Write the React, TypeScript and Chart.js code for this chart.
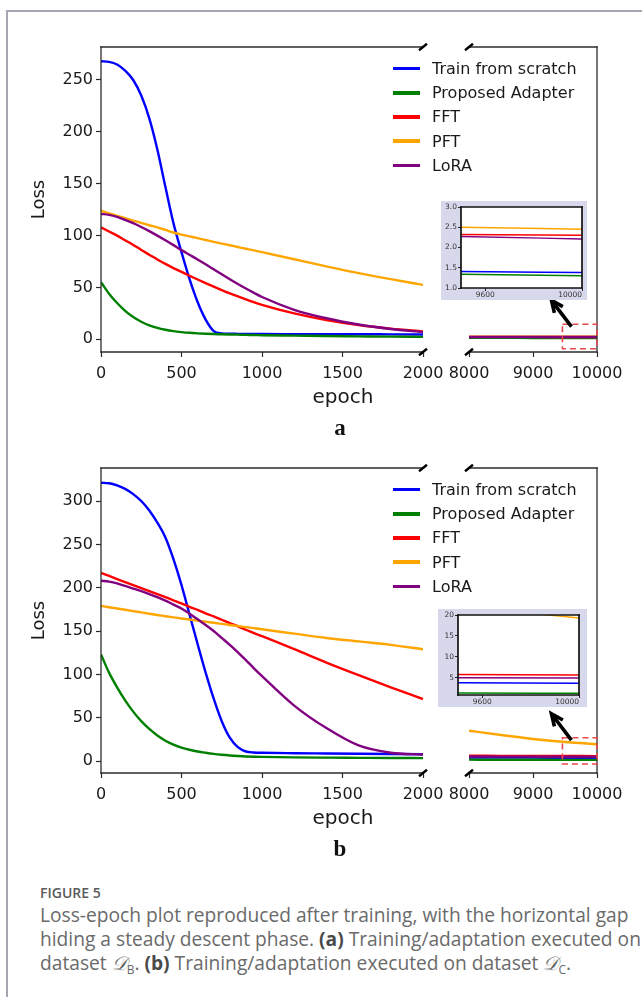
import React, { useEffect, useRef } from 'react';
import { Chart, registerables } from 'chart.js';

Chart.register(...registerables);

// ---------------- data ----------------
const SERIES_NAMES = ['Train from scratch', 'Proposed Adapter', 'FFT', 'PFT', 'LoRA'];
const SERIES_COLORS = ['#0000ff', '#008000', '#ff0000', '#ffa500', '#800080'];

const EPOCHS = [0, 50, 100, 150, 200, 250, 300, 350, 400, 450, 500, 550, 600, 650, 700, 750, 800, 850, 900, 950, 1000, 1200, 1400, 1600, 1800, 2000];
const LATE_EPOCHS = [8000, 8500, 9000, 9500, 10000];

const EARLY_X_TICKS = [0, 500, 1000, 1500, 2000];
const LATE_X_TICKS = [8000, 9000, 10000];
const INSET_X = [9500, 10000];
const INSET_X_LABELS = [9600, 10000];

// panel (a)
const A_SCRATCH = [268, 267.5, 265, 259, 250, 235, 213, 183, 147, 112, 84, 58, 36, 19, 8, 5.7, 5.4, 5.3, 5.2, 5.2, 5.1, 5.0, 4.9, 4.9, 4.8, 4.7];
const A_ADAPTER = [55, 44, 35, 27.5, 21.5, 17, 13.5, 11, 9.2, 7.9, 7, 6.3, 5.8, 5.4, 5.1, 4.9, 4.7, 4.5, 4.3, 4.2, 4.0, 3.6, 3.2, 2.9, 2.6, 2.4];
const A_FFT = [108, 104, 100, 95.5, 91, 86.2, 81.6, 77, 72.7, 68.7, 65, 61.3, 57.7, 54.2, 50.8, 47.5, 44.3, 41.3, 38.5, 35.8, 33.3, 25, 18.6, 13.8, 10.3, 7.7];
const A_PFT = [124, 121.5, 119, 116.8, 114.5, 112.3, 110, 108, 105.5, 103, 101, 99.3, 97.5, 95.8, 94, 92.3, 90.7, 89, 87.3, 85.7, 84, 77.2, 70.4, 63.8, 58, 52.5];
const A_LORA = [121, 120, 118, 115.2, 112, 108.3, 104.3, 100, 95.5, 90.8, 86, 81.5, 77, 72.3, 67.5, 62.7, 58, 53.4, 49, 44.8, 40.8, 28.5, 20.3, 14.3, 10, 7];

const A_SCRATCH_LATE = [1.46, 1.44, 1.42, 1.41, 1.38];
const A_ADAPTER_LATE = [1.4, 1.38, 1.36, 1.34, 1.3];
const A_FFT_LATE = [2.36, 2.35, 2.34, 2.32, 2.3];
const A_PFT_LATE = [2.58, 2.55, 2.52, 2.5, 2.45];
const A_LORA_LATE = [2.33, 2.31, 2.29, 2.27, 2.21];

const A_Y_RANGE = [-12.2, 281.8];
const A_Y_TICKS = [0, 50, 100, 150, 200, 250];
const A_INSET_Y = [1, 3];
const A_INSET_Y_TICKS = [1.0, 1.5, 2.0, 2.5, 3.0];
const A_ZOOM_BOX = [9460, 10000, -9, 14.5];

// panel (b)
const B_SCRATCH = [321, 320.5, 318, 314, 308, 300, 289, 275, 258, 233, 203, 169, 135, 102, 72, 46, 27, 16, 11, 9.8, 9.5, 9.0, 8.7, 8.4, 8.1, 7.8];
const B_ADAPTER = [123, 102, 85, 70, 57, 46, 37, 29.5, 23.5, 19, 15.5, 13, 11, 9.5, 8.2, 7.2, 6.4, 5.8, 5.3, 5.0, 4.8, 4.2, 3.9, 3.7, 3.5, 3.4];
const B_FFT = [217, 213.5, 210, 206.5, 203, 199.5, 196, 192.5, 189, 185.5, 182, 178, 174.5, 170.5, 167, 163, 159, 155.5, 151.5, 147.5, 144, 129, 113.5, 99, 85, 71.5];
const B_PFT = [179, 177.5, 176, 174.5, 173, 171.5, 170, 168.5, 167, 165.8, 164.5, 163.3, 162, 160.8, 159.5, 158.3, 157, 155.8, 154.5, 153.3, 152, 147, 142, 138, 134, 129];
const B_LORA = [208, 207, 205, 202, 199, 196, 192.5, 189, 185, 180.5, 176, 170, 163.5, 157, 150, 142, 134, 125.5, 116.5, 107, 98, 64, 38, 18, 9.5, 7.5];

const B_SCRATCH_LATE = [4.1, 4.0, 3.9, 3.8, 3.7];
const B_ADAPTER_LATE = [1.6, 1.5, 1.45, 1.4, 1.3];
const B_FFT_LATE = [6.1, 6.0, 5.9, 5.8, 5.7];
const B_PFT_LATE = [35, 30, 25.5, 22, 19.3];
const B_LORA_LATE = [5.2, 5.1, 5.05, 5.0, 4.95];

const B_Y_RANGE = [-13.8, 338.1];
const B_Y_TICKS = [0, 50, 100, 150, 200, 250, 300];
const B_INSET_Y = [0.9, 20];
const B_INSET_Y_TICKS = [5, 10, 15, 20];
const B_ZOOM_BOX = [9460, 10000, -3.5, 26.9];

// ---------------- styling ----------------
const FONT = '"DejaVu Sans", sans-serif';
const TEXT = '#1a1a1a';
const SPINE = '#2b2b2b';

// ---------------- plugins ----------------
const areaBg = {
  id: 'areaBg',
  beforeDraw(chart: any, _a: any, opts: any) {
    if (!opts || !opts.color) return;
    const { ctx, chartArea: c } = chart;
    ctx.save();
    ctx.fillStyle = opts.color;
    ctx.fillRect(c.left, c.top, c.right - c.left, c.bottom - c.top);
    ctx.restore();
  },
};

const spines = {
  id: 'spines',
  afterDatasetsDraw(chart: any, _a: any, opts: any) {
    const { ctx, chartArea: c } = chart;
    ctx.save();
    ctx.strokeStyle = opts.color || SPINE;
    ctx.lineWidth = opts.width || 1.2;
    ctx.lineCap = 'square';
    const seg = (x1: number, y1: number, x2: number, y2: number) => {
      ctx.beginPath();
      ctx.moveTo(x1, y1);
      ctx.lineTo(x2, y2);
      ctx.stroke();
    };
    if (opts.left) seg(c.left, c.top, c.left, c.bottom);
    if (opts.right) seg(c.right, c.top, c.right, c.bottom);
    if (opts.top) seg(c.left, c.top, c.right, c.top);
    if (opts.bottom) seg(c.left, c.bottom, c.right, c.bottom);
    ctx.restore();
  },
};

const breakMarks = {
  id: 'breakMarks',
  afterDraw(chart: any, _a: any, opts: any) {
    if (!opts || !opts.side) return;
    const { ctx, chartArea: c } = chart;
    const x = opts.side === 'right' ? c.right : c.left;
    ctx.save();
    ctx.strokeStyle = '#000';
    ctx.lineWidth = 2.4;
    for (const y of [c.top, c.bottom]) {
      ctx.beginPath();
      ctx.moveTo(x - 4, y + 3.2);
      ctx.lineTo(x + 4, y - 3.2);
      ctx.stroke();
    }
    ctx.restore();
  },
};

const zoomBox = {
  id: 'zoomBox',
  afterDatasetsDraw(chart: any, _a: any, opts: any) {
    if (!opts || !opts.box) return;
    const [x0, x1, y0, y1] = opts.box;
    const xs = chart.scales.x;
    const ys = chart.scales.y;
    const L = xs.getPixelForValue(x0);
    const R = xs.getPixelForValue(x1);
    const T = ys.getPixelForValue(y1);
    const B = ys.getPixelForValue(y0);
    const { ctx } = chart;
    ctx.save();
    ctx.setLineDash([6, 4]);
    ctx.strokeStyle = '#e8474c';
    ctx.lineWidth = 1.6;
    ctx.strokeRect(L, T, R - L, B - T);
    ctx.setLineDash([]);
    // arrow pointing from the box towards the inset
    const tx = L + 9, ty = T + 2.4;
    const hx = L - 11, hy = T - 24;
    ctx.strokeStyle = '#000';
    ctx.lineWidth = 3.6;
    ctx.lineCap = 'butt';
    ctx.beginPath();
    ctx.moveTo(tx, ty);
    ctx.lineTo(hx + 1.5, hy + 2);
    ctx.stroke();
    const ang = Math.atan2(ty - hy, tx - hx);
    const len = 13;
    ctx.lineJoin = 'miter';
    ctx.beginPath();
    ctx.moveTo(hx + len * Math.cos(ang - 0.42), hy + len * Math.sin(ang - 0.42));
    ctx.lineTo(hx, hy);
    ctx.lineTo(hx + len * Math.cos(ang + 0.42), hy + len * Math.sin(ang + 0.42));
    ctx.stroke();
    ctx.restore();
  },
};

// ---------------- helpers ----------------
function datasets(xs: number[], series: number[][], width: number) {
  return series.map((ys, i) => ({
    label: SERIES_NAMES[i],
    data: xs.map((x, j) => ({ x, y: ys[j] })),
    borderColor: SERIES_COLORS[i],
    backgroundColor: SERIES_COLORS[i],
    borderWidth: width,
    pointRadius: 0,
    fill: false,
    cubicInterpolationMode: 'monotone',
    order: series.length - i,
  }));
}

const setTicks = (values: number[]) => (s: any) => {
  s.ticks = values.map((v) => ({ value: v }));
};

const tickFont = { family: FONT, size: 16 };

function mainConfig(kind: 'early' | 'late', series: number[][], yRange: number[], yTicks: number[], box: number[] | null) {
  const early = kind === 'early';
  const xt = early ? EARLY_X_TICKS : LATE_X_TICKS;
  return {
    type: 'line',
    data: { datasets: datasets(early ? EPOCHS : LATE_EPOCHS, series, 2.4) },
    options: {
      animation: false,
      responsive: false,
      events: [],
      layout: { padding: early ? { top: 12, right: 30, left: 0, bottom: 0 } : { top: 12, right: 30, left: 25, bottom: 0 } },
      plugins: {
        legend: { display: false },
        tooltip: { enabled: false },
        spines: { left: early, right: !early, top: true, bottom: true, color: SPINE, width: 1.3 },
        breakMarks: { side: early ? 'right' : 'left' },
        zoomBox: { box },
        areaBg: { color: null },
      },
      scales: {
        x: {
          type: 'linear',
          min: xt[0],
          max: xt[xt.length - 1],
          afterBuildTicks: setTicks(xt),
          ticks: { font: tickFont, color: TEXT, padding: 7, maxRotation: 0, autoSkip: false, callback: (v: number) => String(v) },
          grid: { drawOnChartArea: false, drawTicks: true, tickLength: 5, tickColor: SPINE, tickWidth: 1.2 },
          border: { display: false },
          afterFit: (s: any) => {
            s.height = 40;
            s.paddingLeft = 0;
            s.paddingRight = 0;
          },
        },
        y: {
          type: 'linear',
          display: early,
          min: yRange[0],
          max: yRange[1],
          afterBuildTicks: setTicks(yTicks),
          ticks: { font: tickFont, color: TEXT, padding: 3, callback: (v: number) => String(v) },
          title: { display: true, text: 'Loss', font: { family: FONT, size: 18 }, color: TEXT, padding: { top: 9, bottom: 0 } },
          grid: { drawOnChartArea: false, drawTicks: true, tickLength: 5, tickColor: SPINE, tickWidth: 1.2 },
          border: { display: false },
          afterFit: (s: any) => {
            if (early) s.width = 81;
            s.paddingTop = 0;
            s.paddingBottom = 0;
          },
        },
      },
    },
    plugins: [areaBg, spines, breakMarks, zoomBox],
  };
}

function insetConfig(series: number[][], yRange: number[], yTicks: number[], geo: any) {
  const fine = yTicks[1] - yTicks[0] < 1;
  const fmt = (v: number) => (fine ? v.toFixed(1) : String(v));
  const labelled = (v: number) => INSET_X_LABELS.indexOf(v) >= 0;
  return {
    type: 'line',
    data: { datasets: datasets(LATE_EPOCHS, series, 1.5) },
    options: {
      animation: false,
      responsive: false,
      events: [],
      layout: { padding: { top: geo.padT, right: geo.padR, left: 0, bottom: 0 } },
      plugins: {
        legend: { display: false },
        tooltip: { enabled: false },
        spines: { left: true, right: true, top: true, bottom: true, color: '#111', width: 1.7 },
        breakMarks: { side: null },
        zoomBox: { box: null },
        areaBg: { color: '#ffffff' },
      },
      scales: {
        x: {
          type: 'linear',
          min: INSET_X[0],
          max: INSET_X[1],
          ticks: {
            stepSize: 100,
            autoSkip: false,
            maxRotation: 0,
            align: 'inner',
            font: { family: FONT, size: 7.5 },
            color: '#333',
            padding: 0,
            callback: (v: number) => (labelled(v) ? String(v) : ''),
          },
          grid: {
            drawOnChartArea: false,
            tickLength: 3,
            tickWidth: 1,
            tickColor: (ctx: any) => (ctx.tick && labelled(ctx.tick.value) ? '#222' : 'rgba(0,0,0,0)'),
          },
          border: { display: false },
          afterFit: (s: any) => {
            s.height = geo.xAxisH;
            s.paddingLeft = 0;
            s.paddingRight = 0;
          },
        },
        y: {
          type: 'linear',
          min: yRange[0],
          max: yRange[1],
          afterBuildTicks: setTicks(yTicks),
          ticks: { font: { family: FONT, size: 7.5 }, color: '#333', padding: 1, callback: fmt },
          grid: { drawOnChartArea: false, tickLength: 3, tickWidth: 1, tickColor: '#222' },
          border: { display: false },
          afterFit: (s: any) => {
            s.width = geo.yAxisW;
            s.paddingTop = 0;
            s.paddingBottom = 0;
          },
        },
      },
    },
    plugins: [areaBg, spines, breakMarks, zoomBox],
  };
}

function ChartCanvas(props: { left: number; top: number; width: number; height: number; make: () => any; background?: string }) {
  const ref = useRef<HTMLCanvasElement | null>(null);
  useEffect(() => {
    const chart = new Chart(ref.current as HTMLCanvasElement, props.make());
    return () => chart.destroy();
  }, []);
  return (
    <canvas
      ref={ref}
      width={props.width}
      height={props.height}
      style={{ position: 'absolute', left: props.left, top: props.top, width: props.width, height: props.height, background: props.background || 'transparent' }}
    />
  );
}

type PanelProps = {
  pt: number;
  early: number[][];
  late: number[][];
  yRange: number[];
  yTicks: number[];
  insetY: number[];
  insetYTicks: number[];
  box: number[];
  inset: { left: number; top: number; width: number; height: number; yAxisW: number; padR: number; padT: number; xAxisH: number };
  letter: string;
};

function Panel(p: PanelProps) {
  return (
    <>
      <ChartCanvas left={20} top={p.pt - 12} width={433} height={357} make={() => mainConfig('early', p.early, p.yRange, p.yTicks, null)} />
      <ChartCanvas left={444} top={p.pt - 12} width={183} height={357} make={() => mainConfig('late', p.late, p.yRange, p.yTicks, p.box)} />
      <div style={{ position: 'absolute', left: 393, top: p.pt + 9.5, fontFamily: FONT, fontSize: 16, color: TEXT }}>
        {SERIES_NAMES.map((n, i) => (
          <div key={n} style={{ display: 'flex', alignItems: 'center', height: 24.2, whiteSpace: 'nowrap' }}>
            <span style={{ display: 'inline-block', width: 27, height: 3.5, background: SERIES_COLORS[i] }} />
            <span style={{ marginLeft: 12 }}>{n}</span>
          </div>
        ))}
      </div>
      <ChartCanvas
        left={p.inset.left}
        top={p.inset.top}
        width={p.inset.width}
        height={p.inset.height}
        background="#d8d8ec"
        make={() => insetConfig(p.late, p.insetY, p.insetYTicks, p.inset)}
      />
      <div style={{ position: 'absolute', left: 243, width: 200, top: p.pt + 348.5 - 12, height: 24, lineHeight: '24px', textAlign: 'center', fontFamily: FONT, fontSize: 20, color: TEXT }}>
        epoch
      </div>
      <div style={{ position: 'absolute', left: 290, width: 100, top: p.pt + 381 - 13, height: 26, lineHeight: '26px', textAlign: 'center', fontFamily: '"Liberation Serif", serif', fontWeight: 700, fontSize: 23, color: '#111' }}>
        {p.letter}
      </div>
    </>
  );
}

const subStyle: React.CSSProperties = { fontSize: 12, verticalAlign: 'baseline', position: 'relative', top: 4, fontStyle: 'normal' };
const mathD: React.CSSProperties = { fontFamily: '"DejaVu Serif", serif', fontStyle: 'italic' };

export default function App() {
  return (
    <div style={{ position: 'absolute', left: 0, top: 0, width: 642, height: 997, background: '#fff', overflow: 'hidden' }}>
      <div style={{ position: 'absolute', left: 6, top: 10, right: -4, bottom: -4, borderTop: '2px solid #a6a6b2', borderLeft: '2px solid #a6a6b2' }} />
      <Panel
        pt={47}
        early={[A_SCRATCH, A_ADAPTER, A_FFT, A_PFT, A_LORA]}
        late={[A_SCRATCH_LATE, A_ADAPTER_LATE, A_FFT_LATE, A_PFT_LATE, A_LORA_LATE]}
        yRange={A_Y_RANGE}
        yTicks={A_Y_TICKS}
        insetY={A_INSET_Y}
        insetYTicks={A_INSET_Y_TICKS}
        box={A_ZOOM_BOX}
        inset={{ left: 441, top: 201, width: 146, height: 99, yAxisW: 20, padR: 5, padT: 6, xAxisH: 12 }}
        letter="a"
      />
      <Panel
        pt={468}
        early={[B_SCRATCH, B_ADAPTER, B_FFT, B_PFT, B_LORA]}
        late={[B_SCRATCH_LATE, B_ADAPTER_LATE, B_FFT_LATE, B_PFT_LATE, B_LORA_LATE]}
        yRange={B_Y_RANGE}
        yTicks={B_Y_TICKS}
        insetY={B_INSET_Y}
        insetYTicks={B_INSET_Y_TICKS}
        box={B_ZOOM_BOX}
        inset={{ left: 438, top: 609, width: 149, height: 98, yAxisW: 20, padR: 8, padT: 6, xAxisH: 12 }}
        letter="b"
      />
      <div style={{ position: 'absolute', left: 40, top: 884, fontFamily: '"Open Sans", sans-serif', fontSize: 14, fontWeight: 600, color: '#5a5a5a', lineHeight: '18px' }}>
        FIGURE 5
      </div>
      <div style={{ position: 'absolute', left: 40, top: 903, fontFamily: '"Open Sans", sans-serif', fontSize: 19.2, lineHeight: '24px', color: '#6a6a6a', whiteSpace: 'nowrap' }}>
        Loss-epoch plot reproduced after training, with the horizontal gap
        <br />
        hiding a steady descent phase. <b style={{ fontWeight: 700, color: '#4a4a4a' }}>(a)</b> Training/adaptation executed on
        <br />
        dataset <span style={mathD}>𝒟</span>
        <sub style={subStyle}>B</sub>. <b style={{ fontWeight: 700, color: '#4a4a4a' }}>(b)</b> Training/adaptation executed on dataset{' '}
        <span style={mathD}>𝒟</span>
        <sub style={subStyle}>C</sub>.
      </div>
    </div>
  );
}
